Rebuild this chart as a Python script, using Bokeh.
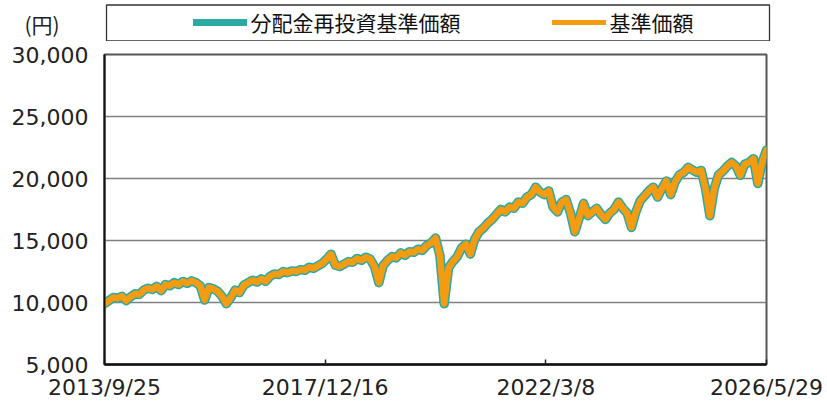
import pandas as pd
from bokeh.plotting import figure
from bokeh.layouts import column
from bokeh.models import (Range1d, FixedTicker, NumeralTickFormatter, CustomJSTickFormatter,
                          Legend, LegendItem, ColumnDataSource)
from bokeh.core.properties import value
from bokeh.embed import file_html
from bokeh.resources import INLINE

# ---------------- data ----------------
start_date = "2013-09-25"
end_date = "2026-05-29"
tick_dates = ["2013-09-25", "2017-12-16", "2022-03-08", "2026-05-29"]
y_ticks = [5000, 10000, 15000, 20000, 25000, 30000]
series_names = ["分配金再投資基準価額", "基準価額"]
unit_label = "(円)"

# roughly monthly readings of the chart (yen)
reinvested = [
    9900, 10150, 10400, 10350, 10500, 10150, 10450, 10700, 10650, 11000,
    11150, 11050, 11300, 10950, 11450, 11350, 11600, 11450, 11700, 11550,
    11750, 11600, 11350, 10200, 11200, 11100, 10900, 10500, 9900, 10400,
    11000, 10800, 11400, 11600, 11800, 11650, 11900, 11700, 12100, 12300,
    12250, 12500, 12400, 12550, 12500, 12650, 12600, 12850, 12750, 12950,
    13150, 13500, 13900, 13000, 12900, 13100, 13300, 13250, 13550, 13400,
    13650, 13500, 12900, 11600, 13000, 13400, 13700, 13600, 14000, 13800,
    14100, 14050, 14300, 14200, 14600, 14800, 15200, 13800, 9900, 12800,
    13300, 13700, 14400, 14700, 13900, 15100, 15700, 16000, 16400, 16700,
    17100, 17500, 17300, 17700, 17600, 18100, 18000, 18500, 18700, 19300,
    18900, 18700, 19000, 17700, 17300, 18100, 18300, 17200, 15700, 16800,
    18000, 17000, 17300, 17600, 17100, 16700, 17200, 17500, 18100, 17600,
    17200, 16050, 17300, 18200, 18600, 19000, 19300, 18500, 19200, 19800,
    18700, 19700, 20300, 20500, 20900, 20700, 20500, 20650, 19200, 17000,
    19200, 20300, 20600, 21000, 21300, 21000, 20250, 21150, 21300, 21600,
    19600, 21300, 22300,
]
# no distributions paid: the base price coincides with the reinvested price
base_price = list(reinvested)

teal = "#2BAAA5"
orange = "#F39C12"

dates = pd.date_range(start_date, end_date, periods=len(reinvested))
src = ColumnDataSource(dict(date=dates, reinv=reinvested, base=base_price))


def ms(d):
    return pd.Timestamp(d).value // 10**6


# ---------------- legend strip (top) ----------------
LH = 41
lf = figure(width=827, height=LH, x_range=Range1d(0, 827), y_range=Range1d(LH, 0),
            toolbar_location=None, output_backend="svg", min_border=0,
            min_border_left=0, min_border_right=0, min_border_top=0, min_border_bottom=0,
            x_axis_location=None, y_axis_location=None, outline_line_color=None,
            frame_align=False)
lf.grid.visible = False
lf.quad(left=[106], right=[769], top=[4.5], bottom=[LH - 0.5], fill_color=None,
        line_color="#333333", line_width=1.3)
lf.text(x=[41.5], y=[23], text=[unit_label], text_align="center", text_baseline="middle",
        text_font=value("Noto Sans CJK JP"), text_font_size="21px", text_color="#222222")
# legend proxies (kept off-screen; only their legend swatches are seen)
d1 = lf.line(x=[-20, -10], y=[-20, -20], line_color=teal, line_width=7, line_cap="round")
d2 = lf.line(x=[-20, -10], y=[-20, -20], line_color=orange, line_width=5, line_cap="round")
legend = Legend(items=[LegendItem(label=series_names[0], renderers=[d1]),
                       LegendItem(label=series_names[1], renderers=[d2])],
                orientation="horizontal", location=(192.5, 4),
                label_text_font="Noto Sans CJK JP", label_text_font_size="21px",
                label_text_color="#111111", label_height=26, glyph_height=26,
                glyph_width=54, label_standoff=4, spacing=91, padding=0, margin=0,
                border_line_color=None, background_fill_alpha=0)
lf.add_layout(legend)

# ---------------- main chart ----------------
p = figure(width=827, height=403 - LH, x_axis_type="datetime",
           x_range=Range1d(ms(start_date), ms(end_date)), y_range=Range1d(5000, 30000),
           toolbar_location=None, output_backend="svg", frame_align=False,
           min_border_left=104, min_border_right=61, min_border_top=54 - LH,
           min_border_bottom=39)
p.outline_line_color = "#555555"
p.outline_line_width = 2

p.line("date", "reinv", source=src, line_color=teal, line_width=9.5,
       line_join="round", line_cap="round")
p.line("date", "base", source=src, line_color=orange, line_width=6.5,
       line_join="round", line_cap="round")

p.xgrid.visible = False
p.ygrid.ticker = FixedTicker(ticks=y_ticks)
p.ygrid.grid_line_color = "#808080"
p.ygrid.grid_line_width = 1.5

ya = p.yaxis[0]
ya.ticker = FixedTicker(ticks=y_ticks)
ya.formatter = NumeralTickFormatter(format="0,0")
ya.major_tick_in = 0
ya.major_tick_out = 0
ya.minor_tick_line_color = None
ya.axis_line_color = "#111111"
ya.axis_line_width = 2
ya.major_label_standoff = 16
ya.major_label_text_font = "DejaVu Sans"
ya.major_label_text_font_size = "22px"
ya.major_label_text_color = "#222222"

xa = p.xaxis[0]
xa.ticker = FixedTicker(ticks=[ms(d) for d in tick_dates])
xa.formatter = CustomJSTickFormatter(code="""
const d = new Date(tick);
return d.getUTCFullYear() + "/" + (d.getUTCMonth() + 1) + "/" + d.getUTCDate();
""")
xa.major_tick_in = 5
xa.major_tick_out = 0
xa.major_tick_line_color = "#222222"
xa.major_tick_line_width = 1.5
xa.minor_tick_line_color = None
xa.axis_line_color = "#111111"
xa.axis_line_width = 2.5
xa.major_label_standoff = 10
xa.major_label_text_font = "DejaVu Sans"
xa.major_label_text_font_size = "22px"
xa.major_label_text_color = "#222222"

layout = column(lf, p, spacing=0)
open("out.html", "w").write(file_html(layout, INLINE))
